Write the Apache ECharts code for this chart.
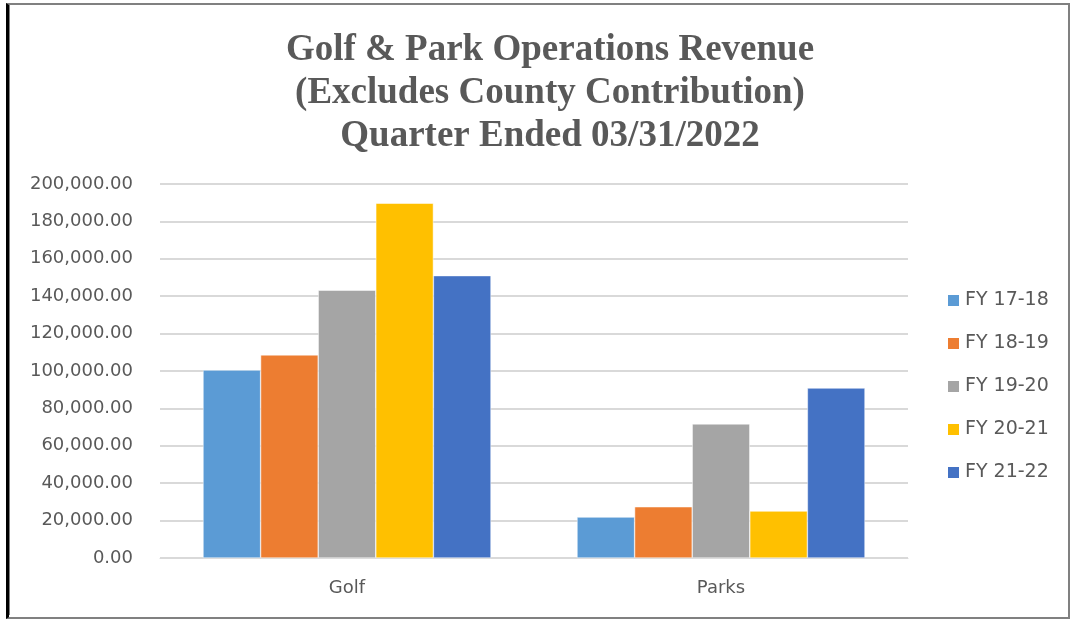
<!DOCTYPE html>
<html>
<head>
<meta charset="utf-8">
<script src="https://cdn.jsdelivr.net/npm/echarts@6/dist/echarts.min.js"></script>
<style>
html,body{margin:0;padding:0;background:#fff;}
#c{width:1071px;height:621px;position:absolute;left:0;top:0;}
#frame{position:absolute;left:6px;top:3px;width:1059px;height:612px;border-top:2px solid #808080;border-left:3px solid #000;border-right:2px solid #808080;border-bottom:2px solid #808080;pointer-events:none;}
#frame2{position:absolute;left:9px;top:5px;width:1px;height:610px;background:#808080;pointer-events:none;}
</style>
</head>
<body>
<div id="c"></div>
<div id="frame"></div>
<div id="frame2"></div>
<script>
var categories = ['Golf', 'Parks'];
var seriesNames = ['FY 17-18', 'FY 18-19', 'FY 19-20', 'FY 20-21', 'FY 21-22'];
var fy1718 = [100500, 21900];
var fy1819 = [108600, 27400];
var fy1920 = [143200, 71700];
var fy2021 = [189700, 25100];
var fy2122 = [151000, 90900];
var colors = ['#5B9BD5', '#ED7D31', '#A5A5A5', '#FFC000', '#4472C4'];
var allValues = [fy1718, fy1819, fy1920, fy2021, fy2122];

var chart = echarts.init(document.getElementById('c'));
var series = seriesNames.map(function(n, i){
  return {
    name: n, type: 'bar', data: allValues[i],
    itemStyle: {color: colors[i], borderColor: '#ffffff', borderWidth: 0.5},
    barGap: '0%', barCategoryGap: '23%'
  };
});
chart.setOption({
  animation: false,
  title: {
    text: 'Golf & Park Operations Revenue\n(Excludes County Contribution)\nQuarter Ended 03/31/2022',
    left: 545, top: 24, textAlign: 'center',
    textStyle: {fontFamily: 'Liberation Serif', fontSize: 37, fontWeight: 'bold', lineHeight: 43, color: '#595959'}
  },
  legend: {
    orient: 'vertical', left: 941, top: 286, itemGap: 24, itemWidth: 13, itemHeight: 13,
    icon: 'rect',
    textStyle: {fontFamily: 'DejaVu Sans', fontSize: 19, color: '#595959'},
    data: seriesNames
  },
  grid: {left: 160, right: 163, top: 184, bottom: 63, containLabel: false},
  xAxis: {
    type: 'category', data: categories,
    axisLine: {lineStyle: {color: '#D9D9D9', width: 1}},
    axisTick: {show: false},
    axisLabel: {fontFamily: 'DejaVu Sans', fontSize: 18, color: '#595959', margin: 21}
  },
  yAxis: {
    type: 'value', min: 0, max: 200000, interval: 20000,
    axisLine: {show: false}, axisTick: {show: false},
    splitLine: {lineStyle: {color: '#D9D9D9', width: 2}},
    axisLabel: {fontFamily: 'DejaVu Sans', fontSize: 18, color: '#595959', margin: 27,
      formatter: function(v){ return v.toLocaleString('en-US', {minimumFractionDigits: 2, maximumFractionDigits: 2}); }}
  },
  series: series
});
</script>
</body>
</html>
